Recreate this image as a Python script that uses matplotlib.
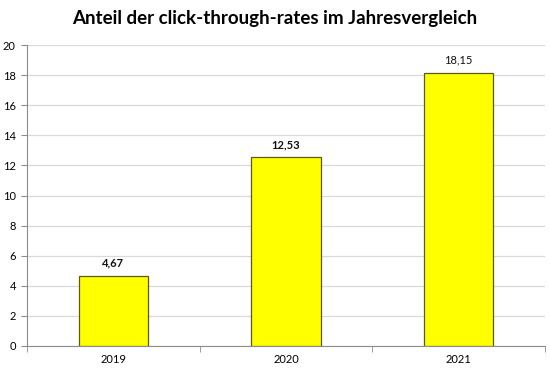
import matplotlib
matplotlib.use("Agg")
import matplotlib.pyplot as plt
import numpy as np

years = ["2019", "2020", "2021"]
rates = [4.67, 12.53, 18.15]
labels = ["4,67", "12,53", "18,15"]
bold_label = [True, True, False]

plt.rcParams["font.family"] = ["Lato", "DejaVu Sans"]

fig = plt.figure(figsize=(5.5, 3.7), dpi=100)
ax = fig.add_axes([0.049, 0.065, 0.942, 0.813])

x = np.arange(len(years))
ax.bar(x, rates, width=0.4, color="#ffff00", edgecolor="#5a5a1e", linewidth=0.9, zorder=3)

for xi, v, lab, b in zip(x, rates, labels, bold_label):
    ax.text(xi, v + 0.5, lab, ha="center", va="bottom", fontsize=8,
            fontweight="bold" if b else "normal", color="#111111")

ax.set_xlim(-0.5, len(years) - 0.5)
ax.set_ylim(0, 20)
ax.set_yticks(np.arange(0, 21, 2))
ax.set_xticks(x)
ax.set_xticklabels(years)
ax.set_xticks(np.arange(-0.5, len(years)), minor=True)
ax.tick_params(axis="x", which="major", length=0, labelsize=8, pad=6)
ax.tick_params(axis="x", which="minor", length=4, color="#8c8c8c")
ax.tick_params(axis="y", length=4, color="#8c8c8c", labelsize=8, pad=4)
ax.grid(axis="y", color="#d9d9d9", linewidth=0.9, zorder=0)
for s in ["top", "right"]:
    ax.spines[s].set_visible(False)
for s in ["left", "bottom"]:
    ax.spines[s].set_color("#8c8c8c")

fig.text(0.5, 0.95, "Anteil der click-through-rates im Jahresvergleich",
         ha="center", va="center", fontsize=13.5, fontweight="bold")

fig.savefig("out.png", dpi=100)
